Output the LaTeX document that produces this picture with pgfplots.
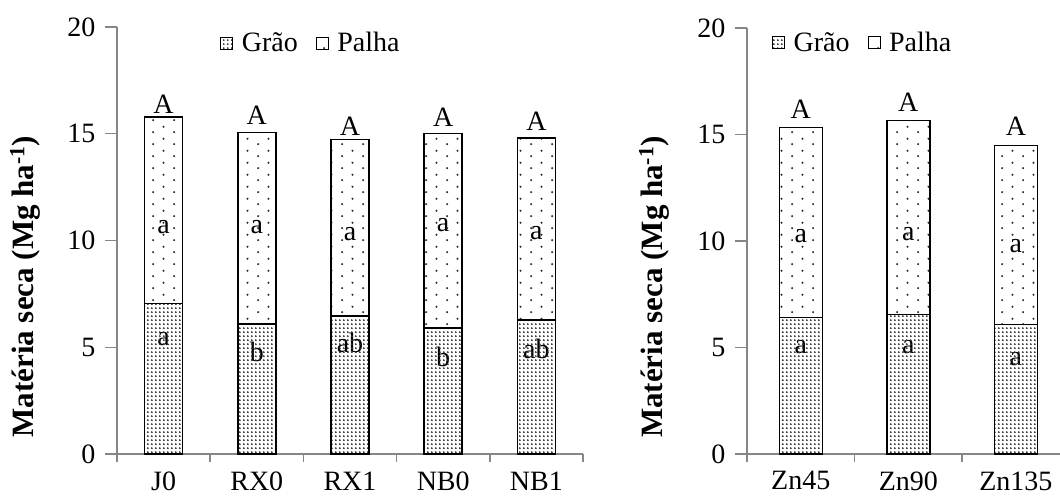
\documentclass[border=0pt]{standalone}
\usepackage{fontspec}
\setmainfont{Liberation Serif}
\usepackage{pgfplots}
\pgfplotsset{compat=1.18}
\usetikzlibrary{patterns.meta}

\definecolor{axisgray}{HTML}{868686}
\newcommand\fs{\fontsize{28}{32}\selectfont}

% dense dots for grain, sparse staggered dots for straw
\tikzdeclarepattern{name=grao, type=uncolored,
  bottom left={(0pt,0pt)}, top right={(4.2pt,4.2pt)}, tile size={(4.2pt,4.2pt)},
  code={\fill (2.1pt,2.1pt) circle (1.2pt);}}
\tikzdeclarepattern{name=palha, type=uncolored,
  bottom left={(0pt,0pt)}, top right={(21.3pt,11.5pt)}, tile size={(21.3pt,11.5pt)},
  code={\fill (5.3pt,2.9pt) circle (1.15pt); \fill (16pt,8.6pt) circle (1.15pt);}}

\pgfplotsset{
  chart/.style={
    scale only axis,
    axis x line=bottom, axis y line=left,
    axis line style={draw=axisgray, line width=1.5pt, -},
    ymin=0, ymax=20, ytick={0,5,10,15,20},
    xmin=-0.5,
    ybar stacked,
    tick align=outside,
    major tick length=12pt, minor tick length=8pt,
    tick style={draw=axisgray, line width=1.5pt},
    every major x tick/.append style={draw=none},
    tick label style={font=\fs},
    xticklabel style={yshift=-2pt},
    yticklabel style={xshift=-6pt},
    /pgf/number format/assume math mode=true,
    legend style={draw=none, fill=none, font=\fs, legend columns=2, anchor=west,
      /tikz/every even column/.append style={column sep=16pt}},
    legend image code/.code={\path[draw=none, fill=none, pattern=none] (0pt,0pt) -- (19pt,0pt);
      \draw[##1, line width=1pt] (0pt,-6pt) rectangle (12pt,6pt);},
    ylabel style={font=\fontsize{31}{34}\selectfont\bfseries, anchor=center},
    ylabel={Matéria seca (Mg ha\textsuperscript{-1})},
    clip=false,
  },
  grao/.style={draw=black, line width=1.5pt, pattern=grao, pattern color=black!80},
  palha/.style={draw=black, line width=1.5pt, pattern=palha, pattern color=black!85},
}

\begin{document}
\begin{tikzpicture}
\begin{axis}[chart,
    at={(117pt,45pt)}, anchor=south west,
    width=466pt, height=427pt,
    xmax=4.5, bar width=38pt,
    xtick={0,1,2,3,4}, xticklabels={J0,RX0,RX1,NB0,NB1},
    minor xtick={-0.5,0.5,1.5,2.5,3.5,4.5},
    legend style={at={(axis description cs:0.215,0.9625)}},
    ylabel style={at={(axis description cs:-0.197,0.392)}},
]
\addplot[grao] coordinates {(0,7.06) (1,6.09) (2,6.46) (3,5.90) (4,6.28)};
\addlegendentry{Grão}
\addplot[palha] coordinates {(0,8.72) (1,8.96) (2,8.28) (3,9.12) (4,8.51)};
\addlegendentry{Palha}

\node[font=\fs, anchor=base] at (axis cs:0,15.96) {A};
\node[font=\fs, anchor=base] at (axis cs:1,15.41) {A};
\node[font=\fs, anchor=base] at (axis cs:2,14.94) {A};
\node[font=\fs, anchor=base] at (axis cs:3,15.33) {A};
\node[font=\fs, anchor=base] at (axis cs:4,15.14) {A};

\node[font=\fs, anchor=base] at (axis cs:0,10.34) {a};
\node[font=\fs, anchor=base] at (axis cs:1,10.34) {a};
\node[font=\fs, anchor=base] at (axis cs:2,10.02) {a};
\node[font=\fs, anchor=base] at (axis cs:3,10.41) {a};
\node[font=\fs, anchor=base] at (axis cs:4,10.06) {a};

\node[font=\fs, anchor=base] at (axis cs:0,5.06) {a};
\node[font=\fs, anchor=base] at (axis cs:1,4.32) {b};
\node[font=\fs, anchor=base] at (axis cs:2,4.74) {ab};
\node[font=\fs, anchor=base] at (axis cs:3,4.09) {b};
\node[font=\fs, anchor=base] at (axis cs:4,4.45) {ab};
\end{axis}

\begin{axis}[chart,
    at={(747pt,45pt)}, anchor=south west,
    width=313pt, height=426pt,
    xmax=2.41, bar width=43pt,
    xtick={0,1,2}, xticklabels={Zn45,Zn90,Zn135},
    minor xtick={-0.5,0.5,1.5},
    legend style={at={(axis description cs:0.07,0.965)}},
    ylabel style={at={(axis description cs:-0.297,0.392)}},
]
\addplot[grao] coordinates {(0,6.40) (1,6.56) (2,6.08)};
\addlegendentry{Grão}
\addplot[palha] coordinates {(0,8.92) (1,9.10) (2,8.41)};
\addlegendentry{Palha}

\node[font=\fs, anchor=base] at (axis cs:0,15.75) {A};
\node[font=\fs, anchor=base] at (axis cs:1,16.06) {A};
\node[font=\fs, anchor=base] at (axis cs:2,14.96) {A};

\node[font=\fs, anchor=base] at (axis cs:0,9.95) {a};
\node[font=\fs, anchor=base] at (axis cs:1,10.03) {a};
\node[font=\fs, anchor=base] at (axis cs:2,9.46) {a};

\node[font=\fs, anchor=base] at (axis cs:0,4.71) {a};
\node[font=\fs, anchor=base] at (axis cs:1,4.71) {a};
\node[font=\fs, anchor=base] at (axis cs:2,4.16) {a};
\end{axis}

\pgfresetboundingbox
\useasboundingbox (0,0) rectangle (1060pt,499pt);
\end{tikzpicture}
\end{document}
